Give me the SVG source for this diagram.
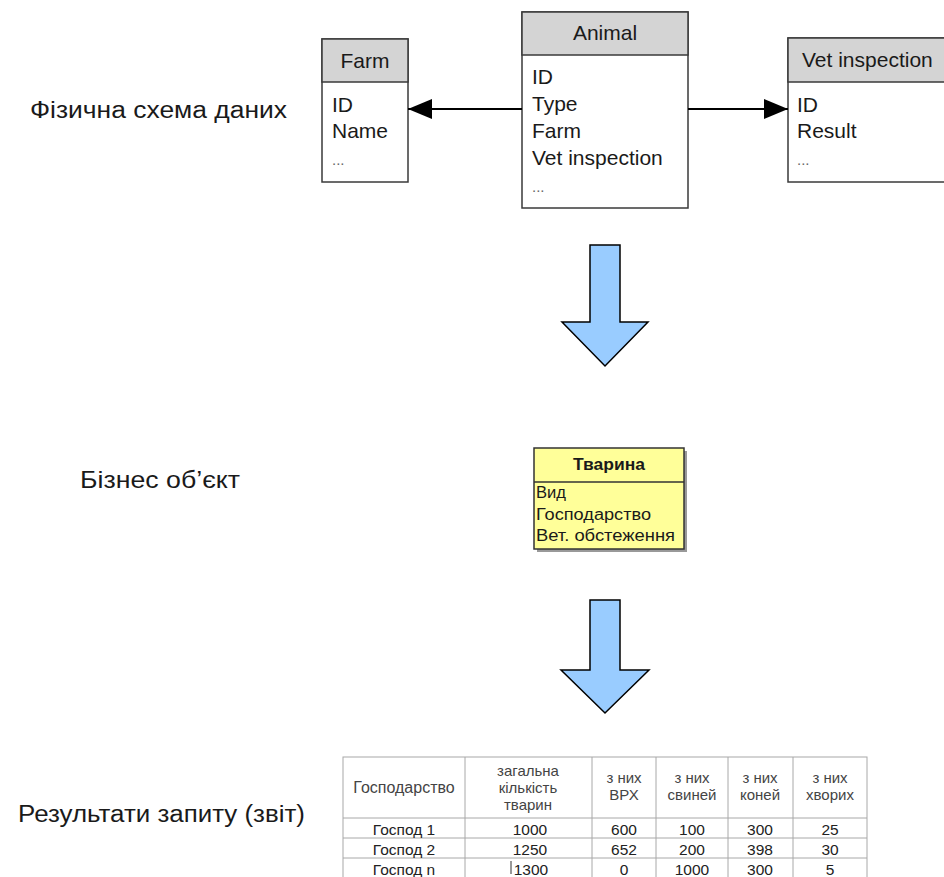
<svg xmlns="http://www.w3.org/2000/svg" width="944" height="877" viewBox="0 0 944 877">
<defs>
<marker id="ah2" markerWidth="24" markerHeight="20" refX="24" refY="10" orient="auto" markerUnits="userSpaceOnUse" viewBox="0 0 24 20"><path d="M0,0 L24,10 L0,20 Z" fill="#000"/></marker>
</defs>
<style>
text{font-family:"Liberation Sans",Arial,sans-serif;fill:#1a1a1a}
.lbl{font-size:23px}
.bx{font-size:21px}
.el{font-size:15px;fill:#666}
.hd{fill:#d4d4d4;stroke:#3a3a3a;stroke-width:1.5}
.bd{fill:#fff;stroke:#3a3a3a;stroke-width:1.5}
.conn{stroke:#000;stroke-width:2;fill:none}
.big{fill:#99ccff;stroke:#000;stroke-width:1.5;stroke-linejoin:miter}
.yb{fill:#ffff99;stroke:#333;stroke-width:1.5}
.ys{fill:#999}
.yt{font-size:16px}
.tl{stroke:#a8a8a8;stroke-width:1;fill:none}
.th{font-size:15px;fill:#444;text-anchor:middle}
.td{font-size:15.5px;fill:#222;text-anchor:middle}
</style>
<rect width="944" height="877" fill="#fff"/>

<g id="labels">
<text class="lbl" x="30" y="118" textLength="257" lengthAdjust="spacingAndGlyphs">Фізична схема даних</text>
<text class="lbl" x="80" y="488" textLength="160" lengthAdjust="spacingAndGlyphs">Бізнес об’єкт</text>
<text class="lbl" x="18" y="822" textLength="287" lengthAdjust="spacingAndGlyphs">Результати запиту (звіт)</text>
</g>

<g id="farm">
<rect class="bd" x="322" y="39" width="86" height="143"/>
<rect class="hd" x="322" y="39" width="86" height="43"/>
<text class="bx" x="365" y="68" text-anchor="middle">Farm</text>
<text class="bx" x="332" y="112">ID</text>
<text class="bx" x="332" y="138">Name</text>
<text class="el" x="332" y="165">...</text>
</g>

<g id="animal">
<rect class="bd" x="522" y="12" width="166" height="196"/>
<rect class="hd" x="522" y="12" width="166" height="43"/>
<text class="bx" x="605" y="40" text-anchor="middle">Animal</text>
<text class="bx" x="532" y="84">ID</text>
<text class="bx" x="532" y="111">Type</text>
<text class="bx" x="532" y="138">Farm</text>
<text class="bx" x="532" y="165">Vet inspection</text>
<text class="el" x="532" y="192">...</text>
</g>

<g id="vet">
<rect class="bd" x="788" y="38" width="180" height="144"/>
<rect class="hd" x="788" y="38" width="180" height="44"/>
<text class="bx" x="802" y="67">Vet inspection</text>
<text class="bx" x="797" y="112">ID</text>
<text class="bx" x="797" y="138">Result</text>
<text class="el" x="797" y="165">...</text>
</g>

<g id="connectors">
<line class="conn" x1="522" y1="109" x2="408" y2="109" marker-end="url(#ah2)"/>
<line class="conn" x1="688" y1="109" x2="788" y2="109" marker-end="url(#ah2)"/>
</g>

<g id="arrow1">
<path class="big" d="M590,245 L620,245 L620,322 L648,322 L605,366 L562,322 L590,322 Z"/>
</g>

<g id="tvaryna">
<rect class="ys" x="537" y="451" width="150" height="101"/>
<rect class="yb" x="534" y="448" width="150" height="101"/>
<line x1="534" y1="482" x2="684" y2="482" stroke="#333" stroke-width="1.5"/>
<text class="yt" x="573" y="470" style="font-weight:bold" textLength="72" lengthAdjust="spacingAndGlyphs">Тварина</text>
<text class="yt" x="536" y="498" textLength="30" lengthAdjust="spacingAndGlyphs">Вид</text>
<text class="yt" x="536" y="520" textLength="115" lengthAdjust="spacingAndGlyphs">Господарство</text>
<text class="yt" x="536" y="541" textLength="139" lengthAdjust="spacingAndGlyphs">Вет. обстеження</text>
</g>

<g id="arrow2">
<path class="big" d="M590,600 L620,600 L620,670 L649,670 L605,713 L561,670 L590,670 Z"/>
</g>

<g id="report">
<rect class="tl" x="343" y="757" width="524" height="130"/>
<line class="tl" x1="343" y1="818" x2="867" y2="818"/>
<line class="tl" x1="343" y1="838" x2="867" y2="838"/>
<line class="tl" x1="343" y1="858" x2="867" y2="858"/>
<line class="tl" x1="465" y1="757" x2="465" y2="877"/>
<line class="tl" x1="592" y1="757" x2="592" y2="877"/>
<line class="tl" x1="656" y1="757" x2="656" y2="877"/>
<line class="tl" x1="728" y1="757" x2="728" y2="877"/>
<line class="tl" x1="793" y1="757" x2="793" y2="877"/>

<text class="th" x="404" y="793" style="font-size:16px">Господарство</text>
<text class="th" x="528" y="776">загальна</text>
<text class="th" x="528" y="793">кількість</text>
<text class="th" x="528" y="810">тварин</text>
<text class="th" x="624" y="783">з них</text>
<text class="th" x="624" y="800">ВРХ</text>
<text class="th" x="692" y="783">з них</text>
<text class="th" x="692" y="800">свиней</text>
<text class="th" x="760" y="783">з них</text>
<text class="th" x="760" y="800">коней</text>
<text class="th" x="830" y="783">з них</text>
<text class="th" x="830" y="800">хворих</text>

<text class="td" x="404" y="835">Господ 1</text>
<text class="td" x="530" y="835">1000</text>
<text class="td" x="624" y="835">600</text>
<text class="td" x="692" y="835">100</text>
<text class="td" x="760" y="835">300</text>
<text class="td" x="830" y="835">25</text>

<text class="td" x="404" y="855">Господ 2</text>
<text class="td" x="530" y="855">1250</text>
<text class="td" x="624" y="855">652</text>
<text class="td" x="692" y="855">200</text>
<text class="td" x="760" y="855">398</text>
<text class="td" x="830" y="855">30</text>

<text class="td" x="404" y="875">Господ n</text>
<line x1="511" y1="861" x2="511" y2="874" stroke="#333" stroke-width="1"/>
<text class="td" x="531" y="875">1300</text>
<text class="td" x="624" y="875">0</text>
<text class="td" x="692" y="875">1000</text>
<text class="td" x="760" y="875">300</text>
<text class="td" x="830" y="875">5</text>
</g>
</svg>
